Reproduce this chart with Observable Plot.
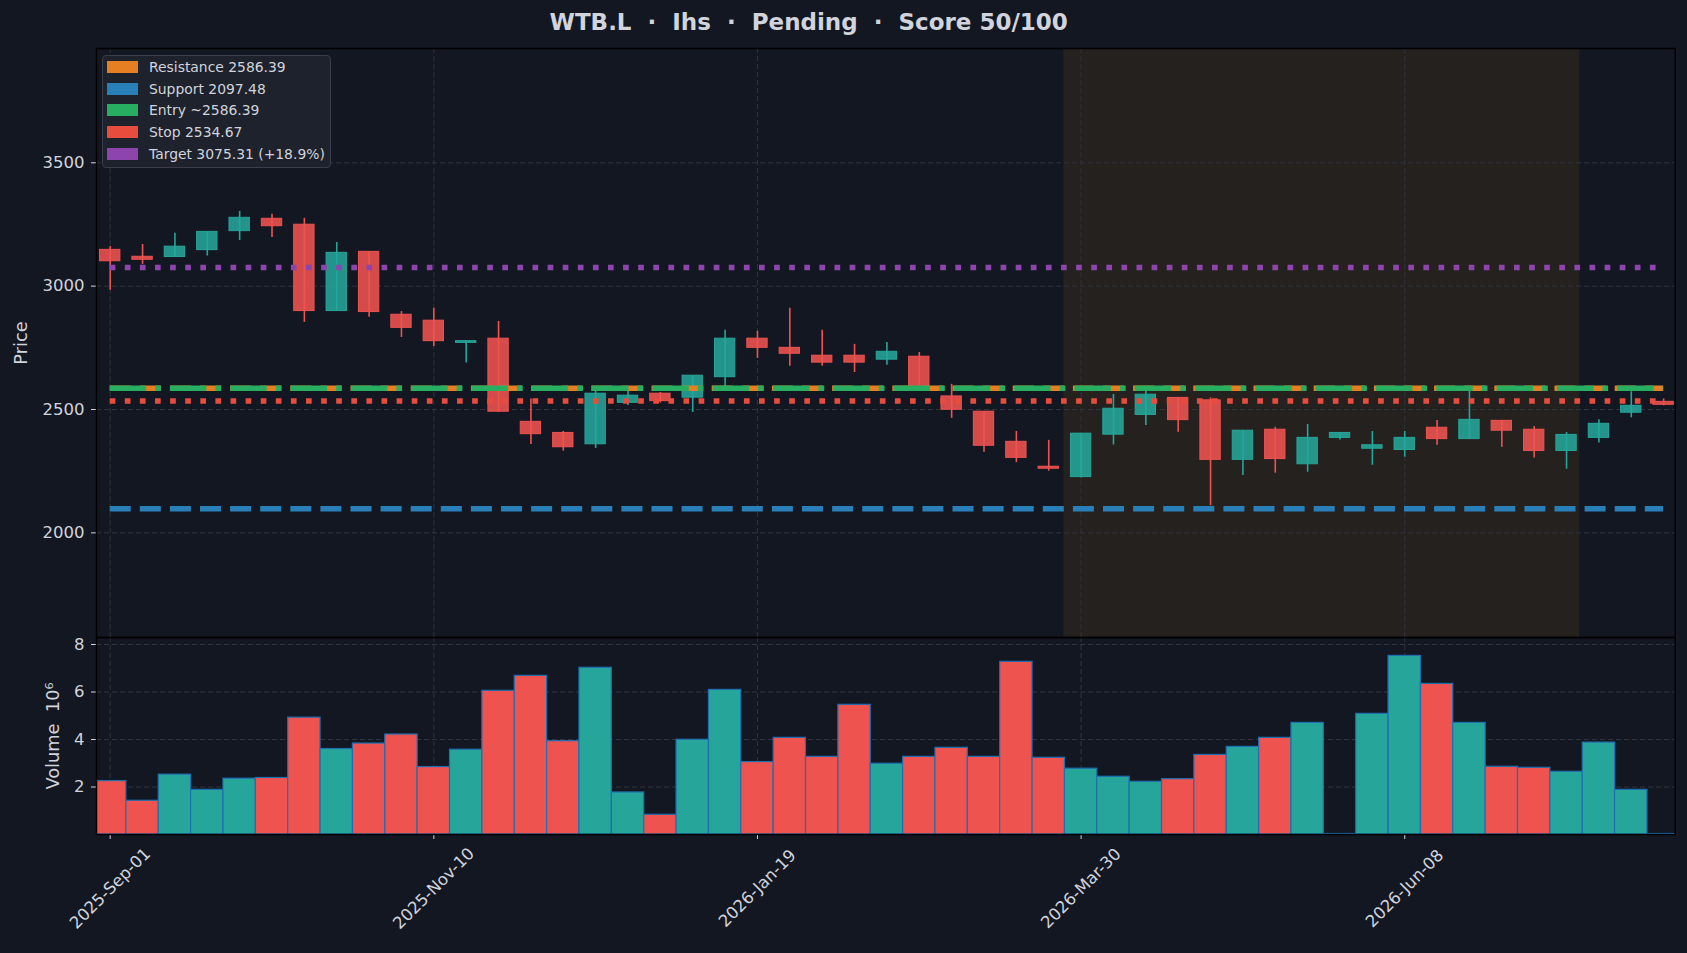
<!DOCTYPE html>
<html>
<head>
<meta charset="utf-8">
<script src="https://cdn.jsdelivr.net/npm/d3@7"></script>
<script src="https://cdn.jsdelivr.net/npm/@observablehq/plot@0.6"></script>
<style>
  html, body { margin: 0; padding: 0; background: #131722; }
  #root { position: relative; width: 1687px; height: 953px; background: #131722; overflow: hidden; font-family: "DejaVu Sans", sans-serif; }
  #root svg { position: absolute; left: 0; display: block; }
  #title { position: absolute; top: 11.2px; left: 808.7px; transform: translateX(-50%); white-space: pre; font-size: 23px; line-height: 1; font-weight: bold; color: #d1d4dc; }
  #legend { position: absolute; left: 101.7px; top: 55px; width: 229.3px; height: 112.7px; box-sizing: border-box; background: #1e222d; border: 1px solid #3a3e4a; border-radius: 4px; }
  .lrow { position: absolute; left: 0; height: 0; }
  .lpatch { position: absolute; left: 4.3px; width: 31px; height: 11.7px; top: -5.85px; }
  .ltext { position: absolute; left: 46.3px; top: -9px; font-size: 13.9px; line-height: 18px; color: #d1d4dc; white-space: pre; }
</style>
</head>
<body>
<div id="root">
  <div id="title"></div>
  <div id="legend"></div>
</div>
<script>
// ---------------- data ----------------
const titleText = "WTB.L  ·  Ihs  ·  Pending  ·  Score 50/100";

const dates = [
  "2025-09-01","2025-09-08","2025-09-15","2025-09-22","2025-09-29","2025-10-06","2025-10-13","2025-10-20",
  "2025-10-27","2025-11-03","2025-11-10","2025-11-17","2025-11-24","2025-12-01","2025-12-08","2025-12-15",
  "2025-12-22","2025-12-29","2026-01-05","2026-01-12","2026-01-19","2026-01-26","2026-02-02","2026-02-09",
  "2026-02-16","2026-02-23","2026-03-02","2026-03-09","2026-03-16","2026-03-23","2026-03-30","2026-04-06",
  "2026-04-13","2026-04-20","2026-04-27","2026-05-04","2026-05-11","2026-05-18","2026-05-25","2026-06-01",
  "2026-06-08","2026-06-15","2026-06-22","2026-06-29","2026-07-06","2026-07-13","2026-07-20","2026-07-27",
  "2026-08-03"
];
const opens  = [3147,3119,3118,3146,3223,3273,3249,2899,3139,2884,2860,2770,2787,2450,2405,2359,
                2527,2564,2548,2631,2787,2750,2718,2718,2702,2714,2553,2491,2369,2268,2226,2398,
                2478,2547,2537,2296,2418,2278,2385,2341,2336,2426,2380,2454,2418,2332,2385,2487,2531];
const highs  = [3161,3169,3214,3220,3303,3291,3275,3177,3140,2897,2910,2777,2857,2543,2411,2582,
                2577,2569,2637,2821,2817,2910,2821,2764,2772,2731,2602,2491,2411,2375,2402,2561,
                2580,2547,2547,2414,2428,2439,2405,2411,2411,2455,2577,2454,2431,2407,2458,2572,2543];
const lows   = [2983,3088,3116,3122,3185,3197,2853,2899,2874,2792,2755,2688,2490,2358,2331,2342,
                2516,2526,2488,2575,2707,2675,2675,2650,2679,2575,2464,2327,2285,2250,2222,2356,
                2435,2408,2110,2232,2242,2246,2376,2274,2307,2355,2380,2347,2303,2258,2364,2466,2515];
const closes = [3101,3107,3160,3220,3277,3243,2899,3135,2895,2831,2777,2777,2491,2400,2347,2564,
                2556,2534,2637,2787,2750,2726,2690,2690,2734,2583,2499,2353,2304,2260,2402,2503,
                2560,2457,2296,2414,2299,2385,2405,2355,2385,2380,2458,2414,2332,2397,2442,2515,2519];
// weekly volume, millions
const volumes = [2.25,1.42,2.52,1.88,2.35,2.38,4.92,3.60,3.83,4.21,2.84,3.57,6.05,6.68,3.93,7.02,
                 1.77,0.83,3.99,6.09,3.05,4.07,3.27,5.46,2.98,3.27,3.65,3.27,7.27,3.23,2.77,2.43,
                 2.22,2.33,3.35,3.69,4.07,4.70,0.02,5.08,7.52,6.34,4.70,2.85,2.81,2.64,3.87,1.88,0.02];

const levelNames  = ["Resistance","Support","Entry","Stop","Target"];
const levelValues = [2586.39, 2097.48, 2586.39, 2534.67, 3075.31];
const legendLabels = ["Resistance 2586.39","Support 2097.48","Entry ~2586.39","Stop 2534.67","Target 3075.31 (+18.9%)"];

const shadeStart = "2026-03-26T06:00:00Z";
const shadeEnd   = "2026-07-15T21:00:00Z";

const xDomain = ["2025-08-29T00:53:00Z", "2026-08-05T12:00:00Z"];
const priceDomain = [1575.8, 3963.3];
const volumeDomain = [0, 8.295];

const tickDates  = ["2025-09-01","2025-11-10","2026-01-19","2026-03-30","2026-06-08"];
const tickLabels = ["2025-Sep-01","2025-Nov-10","2026-Jan-19","2026-Mar-30","2026-Jun-08"];
const priceTicks = [2000, 2500, 3000, 3500];
const volumeTicks = [2, 4, 6, 8];

// ---------------- styles ----------------
const UP = "#26a69a", DOWN = "#ef5350";
const levelStyle = {
  Resistance: {stroke: "#e67e22", dash: "21,9.1"},
  Support:    {stroke: "#2980b9", dash: "21,9.1"},
  Entry:      {stroke: "#27ae60", dash: "36.4,9.1,5.7,9.1"},
  Stop:       {stroke: "#e74c3c", dash: "5.7,9.4"},
  Target:     {stroke: "#8e44ad", dash: "5.7,9.4"}
};
const GRID = "#30343f";
const TXT = "#d1d4dc";
const TICK_FS = 16.5, LABEL_FS = 17.8;

// ---------------- build ----------------
const parse = d3.utcParse("%Y-%m-%d");
const DAY = 864e5;
const candles = dates.map((d, i) => ({
  date: parse(d), open: opens[i], high: highs[i], low: lows[i], close: closes[i],
  volume: volumes[i], up: closes[i] >= opens[i]
}));
const first = candles[0].date, last = candles[candles.length - 1].date;
const levels = levelNames.map((n, i) => ({name: n, value: levelValues[i], x1: first, x2: last}));
const ticksParsed = tickDates.map(parse);
const xDom = xDomain.map(s => new Date(s));
const col = d => d.up ? UP : DOWN;

document.getElementById("title").textContent = titleText;

const W = 1687, ML = 96, MR = 12.3;
const baseStyle = {background: "transparent", color: TXT, fontFamily: "DejaVu Sans", fontSize: TICK_FS + "px", overflow: "visible"};

const price = Plot.plot({
  width: W, height: 637, marginLeft: ML, marginRight: MR, marginTop: 48, marginBottom: 0,
  style: baseStyle,
  x: {type: "utc", domain: xDom, axis: null},
  y: {domain: priceDomain, axis: null},
  marks: [
    Plot.rect([{s: new Date(shadeStart), e: new Date(shadeEnd)}], {x1: "s", x2: "e", fill: "#ff9800", fillOpacity: 0.08}),
    Plot.ruleX(ticksParsed, {stroke: GRID, strokeWidth: 1, strokeDasharray: "5,3"}),
    Plot.ruleY(priceTicks, {stroke: GRID, strokeWidth: 1, strokeDasharray: "5,3"}),
    Plot.ruleX(candles, {x: "date", y1: "low", y2: "high", stroke: col, strokeWidth: 1.6}),
    Plot.rect(candles, {
      x1: d => new Date(+d.date - 2.2 * DAY), x2: d => new Date(+d.date + 2.2 * DAY),
      y1: "open", y2: "close", fill: col, fillOpacity: 0.88, stroke: col, strokeWidth: 1
    }),
    ...levels.map(l => Plot.ruleY([l], {
      y: "value", x1: "x1", x2: "x2", stroke: levelStyle[l.name].stroke,
      strokeWidth: 5.6, strokeDasharray: levelStyle[l.name].dash
    })),
    Plot.axisY({ticks: priceTicks, tickSize: 5, tickPadding: 7, tickFormat: d3.format("d"), label: null}),
    Plot.text(["Price"], {text: d => d, frameAnchor: "left", textAnchor: "middle", dx: -75, rotate: -90, fontSize: LABEL_FS, fill: TXT}),
    Plot.frame({stroke: "#000", strokeWidth: 1.5})
  ]
});
price.style.top = "0px";

const volume = Plot.plot({
  width: W, height: 316, marginLeft: ML, marginRight: MR, marginTop: 0, marginBottom: 119,
  style: baseStyle,
  x: {type: "utc", domain: xDom, axis: null},
  y: {domain: volumeDomain, axis: null},
  marks: [
    Plot.ruleX(ticksParsed, {stroke: GRID, strokeWidth: 1, strokeDasharray: "5,3"}),
    Plot.ruleY(volumeTicks, {stroke: GRID, strokeWidth: 1, strokeDasharray: "5,3"}),
    Plot.rect(candles, {
      x1: d => new Date(+d.date - 3.5 * DAY), x2: d => new Date(+d.date + 3.5 * DAY),
      y1: 0, y2: "volume", fill: col, stroke: "#1f6fb0", strokeWidth: 1.2, clip: true
    }),
    Plot.axisY({ticks: volumeTicks, tickSize: 5, tickPadding: 7, tickFormat: d3.format("d"), label: null}),
    Plot.axisX({ticks: ticksParsed, tickSize: 5, tickFormat: () => "", label: null}),
    Plot.text(tickLabels, {
      x: (d, i) => ticksParsed[i], text: d => d, frameAnchor: "bottom", dy: 54,
      rotate: -45, textAnchor: "middle", lineAnchor: "middle", fontSize: TICK_FS, fill: TXT
    }),
    Plot.text(["Volume  10⁶"], {text: d => d, frameAnchor: "left", textAnchor: "middle", dx: -43, rotate: -90, fontSize: LABEL_FS, fill: TXT}),
    Plot.frame({stroke: "#000", strokeWidth: 1.5})
  ]
});
volume.style.top = "637px";

const root = document.getElementById("root");
root.insertBefore(volume, document.getElementById("title"));
root.insertBefore(price, document.getElementById("title"));

// legend
const legend = document.getElementById("legend");
const rowY = [11.7, 33.7, 55.3, 77, 99];
levelNames.forEach((n, i) => {
  const r = document.createElement("div");
  r.className = "lrow";
  r.style.top = (rowY[i] - 1) + "px";
  const p = document.createElement("div");
  p.className = "lpatch";
  p.style.background = levelStyle[n].stroke;
  const t = document.createElement("div");
  t.className = "ltext";
  t.textContent = legendLabels[i];
  r.appendChild(p); r.appendChild(t);
  legend.appendChild(r);
});
</script>
</body>
</html>
